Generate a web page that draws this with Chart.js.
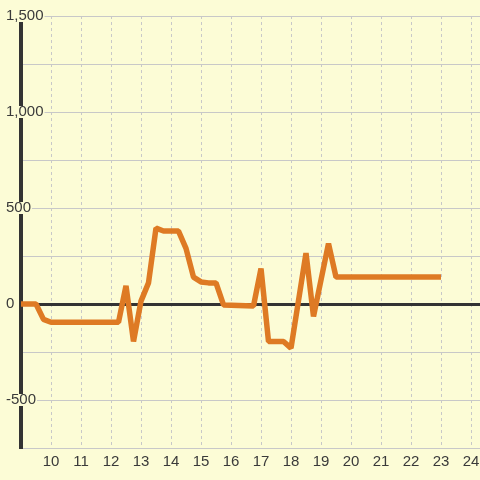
<!DOCTYPE html>
<html>
<head>
<meta charset="utf-8">
<script src="https://cdn.jsdelivr.net/npm/chart.js@4.4.0/dist/chart.umd.min.js"></script>
<style>
  html, body { margin: 0; padding: 0; background: #fcfcd6; }
  #wrap { width: 480px; height: 480px; }
</style>
</head>
<body>
<div id="wrap"><canvas id="chart"></canvas></div>
<script>
// Readings over the day (hour -> value)
const hours = [9, 9.5, 9.75, 10, 12.25, 12.5, 12.75, 13, 13.25, 13.5, 13.75, 14.25, 14.5, 14.75,
    15, 15.25, 15.5, 15.75, 16.75, 17, 17.25, 17.75, 18, 18.5, 18.75, 19.25, 19.5, 23];
const values = [0, 0, -80, -95, -95, 95, -195, 15, 110, 395, 380, 380, 290, 140,
    115, 110, 110, -5, -10, 185, -195, -195, -230, 265, -65, 315, 140, 140];

// Tick labels that are shown
const xTickLabels = [10, 11, 12, 13, 14, 15, 16, 17, 18, 19, 20, 21, 22, 23, 24];
const yTickLabels = [-500, 0, 500, 1000, 1500];

const lineColor = '#de7a24';
const darkColor = '#333333';
const gridColor = '#c8c8c8';
const textColor = '#3a3a3a';
const bgColor = '#fcfcd6';

const points = hours.map((h, i) => ({ x: h, y: values[i] }));

new Chart(document.getElementById('chart'), {
    type: 'line',
    data: {
        datasets: [{
            data: points,
            borderColor: lineColor,
            borderWidth: 5.5,
            borderJoinStyle: 'bevel',
            pointRadius: 0,
            tension: 0,
            fill: false
        }]
    },
    options: {
        responsive: true,
        maintainAspectRatio: false,
        animation: false,
        layout: { padding: { top: 16, left: 0, right: 0, bottom: 0 } },
        plugins: {
            legend: { display: false },
            tooltip: { enabled: false }
        },
        scales: {
            x: {
                type: 'linear',
                min: 9,
                max: 24.3,
                afterFit: function (scale) {
                    scale.height = 32;
                    // let the plot run right to the edge of the canvas
                    scale.paddingLeft = 0;
                    scale.paddingRight = 0;
                },
                // grid lines of this axis are dashed
                border: { display: false, dash: [3, 3] },
                grid: {
                    color: gridColor,
                    lineWidth: 1,
                    drawTicks: false
                },
                ticks: {
                    stepSize: 1,
                    includeBounds: false,
                    maxRotation: 0,
                    autoSkip: false,
                    padding: 5,
                    color: textColor,
                    font: { family: 'Liberation Sans, Arial, sans-serif', size: 15 },
                    callback: function (v) { return xTickLabels.includes(v) ? String(v) : ''; }
                }
            },
            y: {
                min: -750,
                max: 1500,
                afterFit: function (scale) { scale.width = 21; },
                border: { display: true, color: darkColor, width: 4 },
                grid: {
                    drawTicks: false,
                    color: function (ctx) { return ctx.tick && ctx.tick.value === 0 ? darkColor : gridColor; },
                    lineWidth: function (ctx) { return ctx.tick && ctx.tick.value === 0 ? 3 : 1; }
                },
                ticks: {
                    stepSize: 250,
                    // mirrored so the labels are not clipped, pulled back over the axis
                    mirror: true,
                    padding: -15,
                    color: textColor,
                    font: { family: 'Liberation Sans, Arial, sans-serif', size: 15 },
                    showLabelBackdrop: true,
                    backdropColor: bgColor,
                    backdropPadding: { top: -3, bottom: -3, left: 0, right: 1 },
                    callback: function (v) {
                        return yTickLabels.includes(v) ? v.toLocaleString('en-US') : '';
                    }
                }
            }
        }
    }
});
</script>
</body>
</html>
